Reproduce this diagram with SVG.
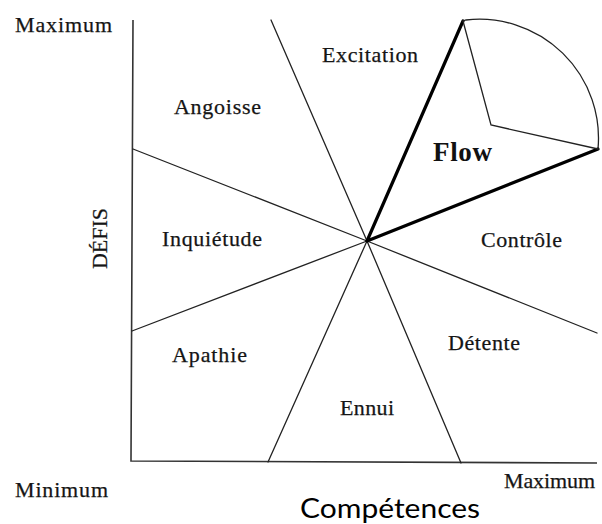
<svg xmlns="http://www.w3.org/2000/svg" width="602" height="524" viewBox="0 0 602 524">
  <style>
    .lbl { font-family: "Liberation Serif", "Times New Roman", serif; font-size: 22px; fill: #151515; stroke: #151515; stroke-width: 0.25; }
    .flow { font-family: "Liberation Serif", "Times New Roman", serif; font-size: 27px; font-weight: bold; fill: #111; }
    .axis-title { font-family: Lato, "Open Sans", sans-serif; font-size: 27px; fill: #000; }
    .thin { stroke: #222; stroke-width: 1.3; fill: none; stroke-linecap: round; }
    .axis { stroke: #333; stroke-width: 1.6; fill: none; }
    .bold { stroke: #000; stroke-width: 3.2; fill: none; stroke-linecap: round; stroke-linejoin: round; }
  </style>
  <rect width="602" height="524" fill="#fff"/>

  <!-- axes -->
  <g id="axes">
    <polyline class="axis" points="133,20 131,461 597,463"/>
  </g>

  <!-- region boundaries radiating from the centre -->
  <g id="connectors">
    <line class="thin" x1="367" y1="241" x2="271" y2="20"/>
    <line class="thin" x1="367" y1="241" x2="133" y2="149"/>
    <line class="thin" x1="367" y1="241" x2="132" y2="331"/>
    <line class="thin" x1="367" y1="241" x2="268" y2="462"/>
    <line class="thin" x1="367" y1="241" x2="461" y2="463"/>
    <line class="thin" x1="367" y1="241" x2="597" y2="333"/>
    <!-- flow channel -->
    <polyline class="bold" points="463,21 367,241 598,149"/>
    <polyline class="thin" points="463,21 491,125 598,149"/>
    <path class="thin" d="M463,21 L466,20 A119,119 0 0 1 598,149"/>
  </g>

  <!-- labels -->
  <g id="label-maximum-y"><text class="lbl" x="15" y="32" textLength="97">Maximum</text></g>
  <g id="label-angoisse"><text class="lbl" x="174" y="114" textLength="87">Angoisse</text></g>
  <g id="label-excitation"><text class="lbl" x="322" y="62" textLength="96">Excitation</text></g>
  <g id="label-flow"><text class="flow" x="433" y="161" textLength="59">Flow</text></g>
  <g id="label-inquietude"><text class="lbl" x="162" y="246" textLength="100">Inquiétude</text></g>
  <g id="label-controle"><text class="lbl" x="481" y="247" textLength="81">Contrôle</text></g>
  <g id="label-detente"><text class="lbl" x="448" y="350" textLength="72">Détente</text></g>
  <g id="label-ennui"><text class="lbl" x="340" y="415" textLength="54">Ennui</text></g>
  <g id="label-apathie"><text class="lbl" x="172" y="362" textLength="75">Apathie</text></g>
  <g id="label-minimum"><text class="lbl" x="15" y="497" textLength="93">Minimum</text></g>
  <g id="label-maximum-x"><text class="lbl" x="504" y="488" textLength="91">Maximum</text></g>
  <g id="label-defis"><text class="lbl" transform="translate(107,269) rotate(-90)" x="0" y="0" textLength="61">DÉFIS</text></g>
  <g id="label-competences"><text class="axis-title" x="300" y="518" textLength="180" lengthAdjust="spacingAndGlyphs">Compétences</text></g>
</svg>
